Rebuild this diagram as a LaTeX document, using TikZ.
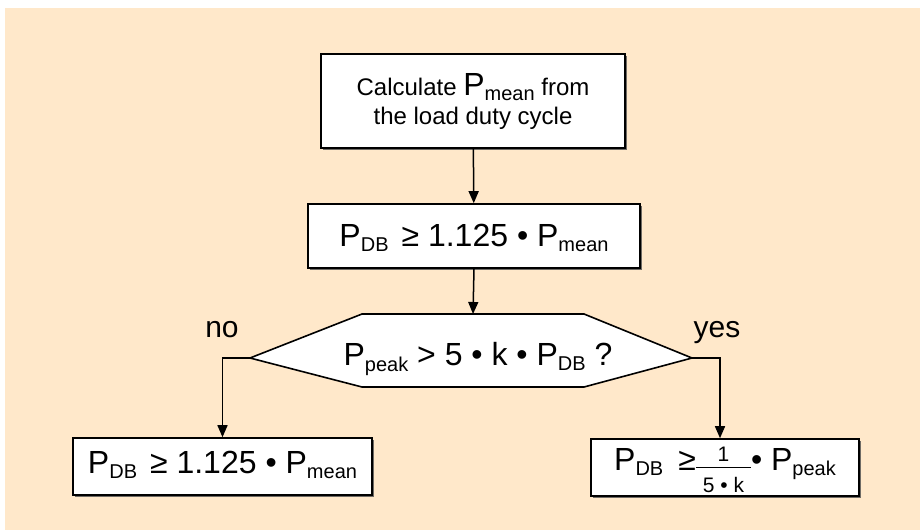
\documentclass[tikz,border=0pt]{standalone}
\usepackage{fontspec}
\setmainfont{Liberation Sans}
\usetikzlibrary{arrows.meta,shadows}
\definecolor{bgpeach}{RGB}{255,232,202}
\setlength\arrayrulewidth{1.5pt}
\newcommand\fsz[1]{\fontsize{#1}{#1}\selectfont}
\newcommand\lowsub[3]{\raisebox{-#3pt}{\fsz{#2}#1}}
\newcommand\ufrac[2]{\raisebox{-22pt}{\fsz{21}\begin{tabular}[b]{@{\hspace{7pt}}c@{\hspace{7pt}}}#1\\[-1pt]\hline\rule{0pt}{24pt}#2\end{tabular}}}
\begin{document}
\begin{tikzpicture}[x=1pt,y=-1pt,
  box/.style={draw=black,line width=1.6pt,fill=white,inner sep=0pt,rectangle,
    drop shadow={shadow xshift=1.5pt,shadow yshift=-1.5pt,fill=black!70,opacity=0.8}},
  arr/.style={line width=1.5pt,-{Triangle[length=12pt,width=10pt]}},
  eq/.style={font=\fsz{32}},
  lbl/.style={font=\fsz{30},anchor=base,inner sep=0pt}]
\useasboundingbox (0,0) rectangle (920,530);
\fill[bgpeach] (5,8) rectangle (920,530);

% boxes
\node[box,align=center,minimum width=304pt,minimum height=94pt,
  font=\fontsize{24}{29}\selectfont] (calc) at (473,101)
  {Calculate {\fontsize{32}{29}\selectfont P}\lowsub{mean}{20}{5} from\\the load duty cycle};
\node[box,eq,minimum width=332pt,text height=42pt,text depth=22pt] (pdb1) at (474,236)
  {P\lowsub{DB}{20}{5}\hspace{13pt}≥ 1.125 • P\lowsub{mean}{20}{5}};
\node[box,eq,minimum width=299pt,text height=35pt,text depth=22pt] (pdb2) at (222.5,466.5)
  {P\lowsub{DB}{20}{5}\hspace{13pt}≥ 1.125 • P\lowsub{mean}{20}{5}};
\node[box,eq,minimum width=268pt,text height=31pt,text depth=26pt] (pdb3) at (725,467.5)
  {P\lowsub{DB}{20}{5}\hspace{15pt}≥\ufrac{1}{5 • k}• P\lowsub{peak}{20}{5}};

% decision hexagon
\coordinate (dL) at (250,358);
\coordinate (dTL) at (362,314);
\coordinate (dTR) at (584,314);
\coordinate (dR) at (692,358);
\coordinate (dBR) at (584,387);
\coordinate (dBL) at (362,387);
\coordinate (dTop) at (473,314);
\draw[line width=1.6pt,fill=white] (dL) -- (dTL) -- (dTR) -- (dR) -- (dBR) -- (dBL) -- cycle;
\node[eq,anchor=base,inner sep=0pt] (dec) at (478,365)
  {P\lowsub{peak}{20}{6} > 5 • k • P\lowsub{DB}{20}{5} ?};

% labels
\node[lbl] (no) at (222,337) {no};
\node[lbl] (yes) at (717,337) {yes};

% connectors
\draw[arr] (calc) -- (pdb1);
\draw[arr] (pdb1.south) -- (dTop);
\draw[arr] (dL) -| (pdb2.north);
\draw[arr] (dR) -| ([xshift=-5pt]pdb3.north);
\end{tikzpicture}
\end{document}
